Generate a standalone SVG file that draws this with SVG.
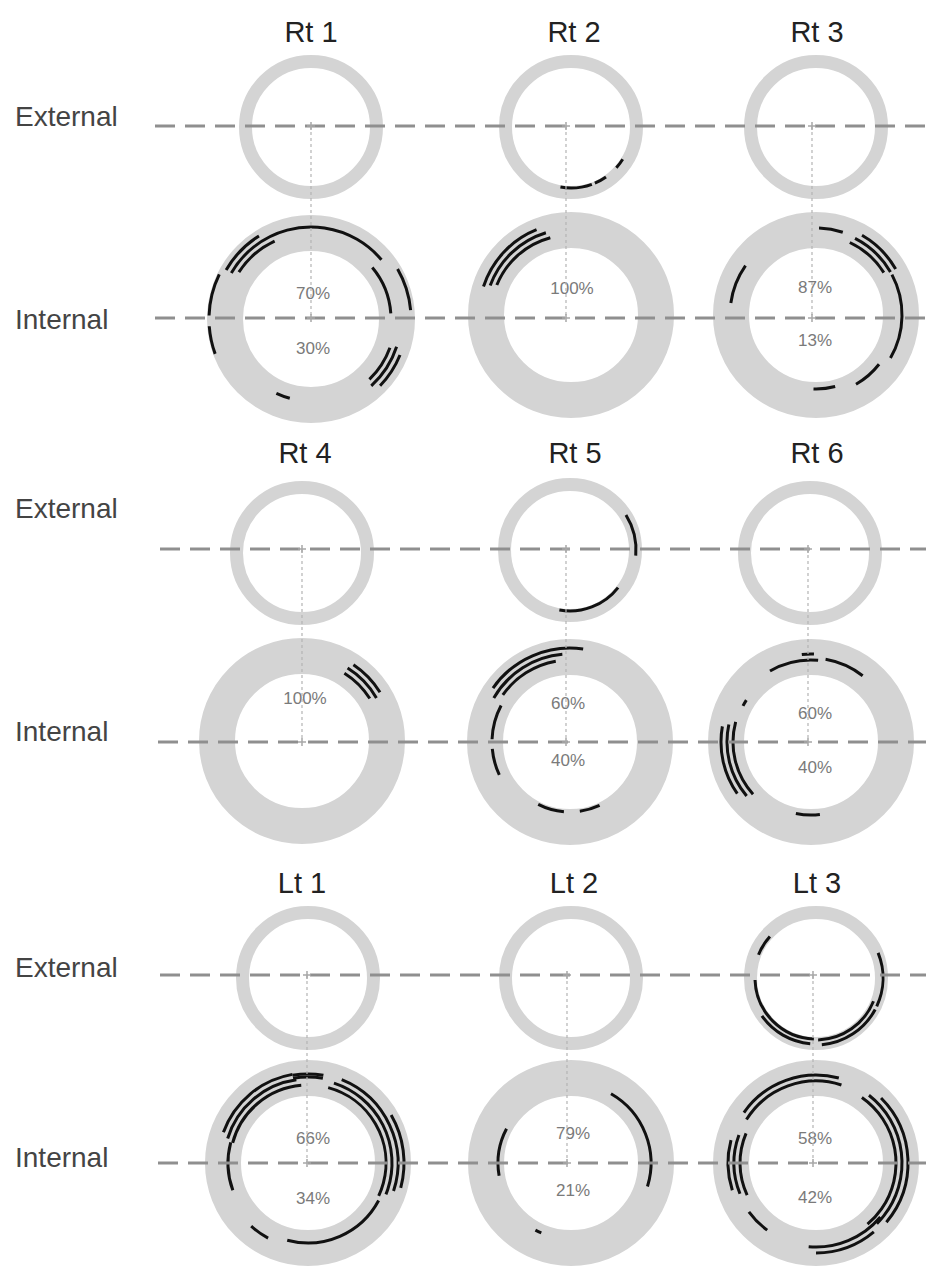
<svg xmlns="http://www.w3.org/2000/svg" width="926" height="1267" viewBox="0 0 926 1267">
<style>
.ext{fill:none;stroke:#d4d4d4;stroke-width:13}
.int{fill:none;stroke:#d4d4d4;stroke-width:36}
.dash{stroke:#8f8f8f;stroke-width:3;stroke-dasharray:20 10;fill:none}
.vdot{stroke:#b4b4b4;stroke-width:1.2;stroke-dasharray:3 3;fill:none}
.mk{stroke:#a8a8a8;stroke-width:1.5;fill:none}
.a{fill:none;stroke:#111;stroke-width:3}
.title{font-family:"Liberation Sans",Arial,sans-serif;font-size:29px;fill:#222;text-anchor:middle}
.lab{font-family:"Liberation Sans",Arial,sans-serif;font-size:28px;fill:#444}
.pct{font-family:"Liberation Sans",Arial,sans-serif;font-size:17px;fill:#7a7a7a;text-anchor:middle}
</style>
<rect width="926" height="1267" fill="#fff"/>

<g id="labels">
<text class="lab" x="15" y="126">External</text>
<text class="lab" x="15" y="329">Internal</text>
<text class="lab" x="15" y="518">External</text>
<text class="lab" x="15" y="741">Internal</text>
<text class="lab" x="15" y="977">External</text>
<text class="lab" x="15" y="1167">Internal</text>
</g>

<!-- Rt 1 -->
<g id="rt1">
<text class="title" x="311" y="42">Rt 1</text>
<circle class="ext" cx="311" cy="127" r="65.5"/>
<circle class="int" cx="311" cy="319" r="86"/>
<circle class="a" cx="311" cy="319" r="92" pathLength="360" stroke-dasharray="110 400" transform="rotate(210 311 319)"/>
<circle class="a" cx="311" cy="319" r="86" pathLength="360" stroke-dasharray="32 400" transform="rotate(213 311 319)"/>
<circle class="a" cx="311" cy="319" r="98" pathLength="360" stroke-dasharray="28 400" transform="rotate(210 311 319)"/>
<circle class="a" cx="311" cy="319" r="102" pathLength="360" stroke-dasharray="16 400" transform="rotate(160 311 319)"/>
<circle class="a" cx="311" cy="319" r="102" pathLength="360" stroke-dasharray="24 400" transform="rotate(182 311 319)"/>
<circle class="a" cx="311" cy="319" r="100" pathLength="360" stroke-dasharray="25 400" transform="rotate(-30 311 319)"/>
<circle class="a" cx="311" cy="319" r="80" pathLength="360" stroke-dasharray="36 400" transform="rotate(-40 311 319)"/>
<circle class="a" cx="311" cy="319" r="84" pathLength="360" stroke-dasharray="26 400" transform="rotate(20 311 319)"/>
<circle class="a" cx="311" cy="319" r="90" pathLength="360" stroke-dasharray="30 400" transform="rotate(18 311 319)"/>
<circle class="a" cx="311" cy="319" r="96" pathLength="360" stroke-dasharray="22 400" transform="rotate(22 311 319)"/>
<circle class="a" cx="311" cy="319" r="82" pathLength="360" stroke-dasharray="10 400" transform="rotate(105 311 319)"/>
<text class="pct" x="313" y="299">70%</text>
<text class="pct" x="313" y="354">30%</text>
</g>

<!-- Rt 2 -->
<g id="rt2">
<text class="title" x="574" y="42">Rt 2</text>
<circle class="ext" cx="571" cy="127" r="65.5"/>
<circle class="int" cx="571" cy="315" r="85"/>
<circle class="a" cx="571" cy="127" r="61" pathLength="360" stroke-dasharray="30 400" transform="rotate(70 571 127)"/>
<circle class="a" cx="571" cy="127" r="61" pathLength="360" stroke-dasharray="12 400" transform="rotate(55 571 127)"/>
<circle class="a" cx="571" cy="127" r="61" pathLength="360" stroke-dasharray="10 400" transform="rotate(32 571 127)"/>
<circle class="a" cx="571" cy="315" r="80" pathLength="360" stroke-dasharray="53 400" transform="rotate(202 571 315)"/>
<circle class="a" cx="571" cy="315" r="86" pathLength="360" stroke-dasharray="53 400" transform="rotate(200 571 315)"/>
<circle class="a" cx="571" cy="315" r="92" pathLength="360" stroke-dasharray="50 400" transform="rotate(198 571 315)"/>
<text class="pct" x="572" y="294">100%</text>
</g>

<!-- Rt 3 -->
<g id="rt3">
<text class="title" x="817" y="42">Rt 3</text>
<circle class="ext" cx="816" cy="127" r="65.5"/>
<circle class="int" cx="816" cy="315" r="85"/>
<circle class="a" cx="816" cy="315" r="87" pathLength="360" stroke-dasharray="16 400" transform="rotate(-88 816 315)"/>
<circle class="a" cx="816" cy="315" r="80" pathLength="360" stroke-dasharray="33 400" transform="rotate(-65 816 315)"/>
<circle class="a" cx="816" cy="315" r="86" pathLength="360" stroke-dasharray="33 400" transform="rotate(-63 816 315)"/>
<circle class="a" cx="816" cy="315" r="92" pathLength="360" stroke-dasharray="30 400" transform="rotate(-60 816 315)"/>
<circle class="a" cx="816" cy="315" r="86" pathLength="360" stroke-dasharray="58 400" transform="rotate(-28 816 315)"/>
<circle class="a" cx="816" cy="315" r="80" pathLength="360" stroke-dasharray="22 400" transform="rotate(38 816 315)"/>
<circle class="a" cx="816" cy="315" r="74" pathLength="360" stroke-dasharray="17 400" transform="rotate(75 816 315)"/>
<circle class="a" cx="816" cy="315" r="86" pathLength="360" stroke-dasharray="27 400" transform="rotate(188 816 315)"/>
<text class="pct" x="815" y="293">87%</text>
<text class="pct" x="815" y="346">13%</text>
</g>

<!-- Rt 4 -->
<g id="rt4">
<text class="title" x="305" y="463">Rt 4</text>
<circle class="ext" cx="302" cy="553" r="65.5"/>
<circle class="int" cx="302" cy="741" r="85"/>
<circle class="a" cx="302" cy="741" r="80" pathLength="360" stroke-dasharray="26 400" transform="rotate(-58 302 741)"/>
<circle class="a" cx="302" cy="741" r="86" pathLength="360" stroke-dasharray="28 400" transform="rotate(-58 302 741)"/>
<circle class="a" cx="302" cy="741" r="92" pathLength="360" stroke-dasharray="24 400" transform="rotate(-56 302 741)"/>
<text class="pct" x="305" y="704">100%</text>
</g>

<!-- Rt 5 -->
<g id="rt5">
<text class="title" x="575" y="463">Rt 5</text>
<circle class="ext" cx="570" cy="550" r="65.5"/>
<circle class="int" cx="570" cy="742" r="85"/>
<circle class="a" cx="570" cy="550" r="66" pathLength="360" stroke-dasharray="37 400" transform="rotate(-32 570 550)"/>
<circle class="a" cx="570" cy="550" r="61" pathLength="360" stroke-dasharray="62 400" transform="rotate(38 570 550)"/>
<circle class="a" cx="570" cy="742" r="94" pathLength="360" stroke-dasharray="63 400" transform="rotate(215 570 742)"/>
<circle class="a" cx="570" cy="742" r="88" pathLength="360" stroke-dasharray="55 400" transform="rotate(210 570 742)"/>
<circle class="a" cx="570" cy="742" r="82" pathLength="360" stroke-dasharray="45 400" transform="rotate(215 570 742)"/>
<circle class="a" cx="570" cy="742" r="78" pathLength="360" stroke-dasharray="20 400" transform="rotate(155 570 742)"/>
<circle class="a" cx="570" cy="742" r="78" pathLength="360" stroke-dasharray="26 400" transform="rotate(182 570 742)"/>
<circle class="a" cx="570" cy="742" r="70" pathLength="360" stroke-dasharray="22 400" transform="rotate(95 570 742)"/>
<circle class="a" cx="570" cy="742" r="70" pathLength="360" stroke-dasharray="17 400" transform="rotate(65 570 742)"/>
<text class="pct" x="568" y="709">60%</text>
<text class="pct" x="568" y="766">40%</text>
</g>

<!-- Rt 6 -->
<g id="rt6">
<text class="title" x="817" y="463">Rt 6</text>
<circle class="ext" cx="810" cy="553" r="65.5"/>
<circle class="int" cx="811" cy="742" r="85"/>
<circle class="a" cx="811" cy="742" r="82" pathLength="360" stroke-dasharray="35 400" transform="rotate(240 811 742)"/>
<circle class="a" cx="811" cy="742" r="84" pathLength="360" stroke-dasharray="28 400" transform="rotate(-80 811 742)"/>
<circle class="a" cx="811" cy="742" r="88" pathLength="360" stroke-dasharray="8 400" transform="rotate(264 811 742)"/>
<circle class="a" cx="811" cy="742" r="77" pathLength="360" stroke-dasharray="5 400" transform="rotate(208 811 742)"/>
<circle class="a" cx="811" cy="742" r="78" pathLength="360" stroke-dasharray="57 400" transform="rotate(138 811 742)"/>
<circle class="a" cx="811" cy="742" r="84" pathLength="360" stroke-dasharray="52 400" transform="rotate(140 811 742)"/>
<circle class="a" cx="811" cy="742" r="90" pathLength="360" stroke-dasharray="45 400" transform="rotate(145 811 742)"/>
<circle class="a" cx="811" cy="742" r="73" pathLength="360" stroke-dasharray="19 400" transform="rotate(83 811 742)"/>
<text class="pct" x="815" y="719">60%</text>
<text class="pct" x="815" y="773">40%</text>
</g>

<!-- Lt 1 -->
<g id="lt1">
<text class="title" x="302" y="893">Lt 1</text>
<circle class="ext" cx="308" cy="978" r="65.5"/>
<circle class="int" cx="308" cy="1163" r="85"/>
<circle class="a" cx="308" cy="1163" r="86" pathLength="360" stroke-dasharray="20 400" transform="rotate(260 308 1163)"/>
<circle class="a" cx="308" cy="1163" r="89" pathLength="360" stroke-dasharray="20 400" transform="rotate(260 308 1163)"/>
<circle class="a" cx="308" cy="1163" r="78" pathLength="360" stroke-dasharray="70 400" transform="rotate(195 308 1163)"/>
<circle class="a" cx="308" cy="1163" r="84" pathLength="360" stroke-dasharray="65 400" transform="rotate(197 308 1163)"/>
<circle class="a" cx="308" cy="1163" r="90" pathLength="360" stroke-dasharray="60 400" transform="rotate(200 308 1163)"/>
<circle class="a" cx="308" cy="1163" r="80" pathLength="360" stroke-dasharray="35 400" transform="rotate(160 308 1163)"/>
<circle class="a" cx="308" cy="1163" r="78" pathLength="360" stroke-dasharray="100 400" transform="rotate(-75 308 1163)"/>
<circle class="a" cx="308" cy="1163" r="84" pathLength="360" stroke-dasharray="94 400" transform="rotate(-72 308 1163)"/>
<circle class="a" cx="308" cy="1163" r="90" pathLength="360" stroke-dasharray="86 400" transform="rotate(-68 308 1163)"/>
<circle class="a" cx="308" cy="1163" r="96" pathLength="360" stroke-dasharray="45 400" transform="rotate(-30 308 1163)"/>
<circle class="a" cx="308" cy="1163" r="80" pathLength="360" stroke-dasharray="77 400" transform="rotate(28 308 1163)"/>
<circle class="a" cx="308" cy="1163" r="85" pathLength="360" stroke-dasharray="14 400" transform="rotate(118 308 1163)"/>
<text class="pct" x="313" y="1144">66%</text>
<text class="pct" x="313" y="1204">34%</text>
</g>

<!-- Lt 2 -->
<g id="lt2">
<text class="title" x="574" y="893">Lt 2</text>
<circle class="ext" cx="571" cy="978" r="65.5"/>
<circle class="int" cx="571" cy="1163" r="85"/>
<circle class="a" cx="571" cy="1163" r="80" pathLength="360" stroke-dasharray="77 400" transform="rotate(-60 571 1163)"/>
<circle class="a" cx="571" cy="1163" r="73" pathLength="360" stroke-dasharray="38 400" transform="rotate(170 571 1163)"/>
<circle class="a" cx="571" cy="1163" r="76" pathLength="360" stroke-dasharray="5 400" transform="rotate(113 571 1163)"/>
<text class="pct" x="573" y="1139">79%</text>
<text class="pct" x="573" y="1196">21%</text>
</g>

<!-- Lt 3 -->
<g id="lt3">
<text class="title" x="817" y="893">Lt 3</text>
<circle class="ext" cx="816" cy="978" r="65.5"/>
<circle class="int" cx="816" cy="1163" r="85"/>
<circle class="a" cx="816" cy="978" r="62" pathLength="360" stroke-dasharray="20 400" transform="rotate(202 816 978)"/>
<circle class="a" cx="816" cy="978" r="61" pathLength="360" stroke-dasharray="86 400" transform="rotate(92 816 978)"/>
<circle class="a" cx="816" cy="978" r="66" pathLength="360" stroke-dasharray="50 400" transform="rotate(95 816 978)"/>
<circle class="a" cx="816" cy="978" r="67" pathLength="360" stroke-dasharray="47 400" transform="rotate(-22 816 978)"/>
<circle class="a" cx="816" cy="978" r="62" pathLength="360" stroke-dasharray="66 400" transform="rotate(22 816 978)"/>
<circle class="a" cx="816" cy="978" r="67" pathLength="360" stroke-dasharray="57 400" transform="rotate(28 816 978)"/>
<circle class="a" cx="816" cy="1163" r="82" pathLength="360" stroke-dasharray="76 400" transform="rotate(212 816 1163)"/>
<circle class="a" cx="816" cy="1163" r="88" pathLength="360" stroke-dasharray="70 400" transform="rotate(215 816 1163)"/>
<circle class="a" cx="816" cy="1163" r="80" pathLength="360" stroke-dasharray="105 400" transform="rotate(-55 816 1163)"/>
<circle class="a" cx="816" cy="1163" r="86" pathLength="360" stroke-dasharray="97 400" transform="rotate(-52 816 1163)"/>
<circle class="a" cx="816" cy="1163" r="92" pathLength="360" stroke-dasharray="85 400" transform="rotate(-45 816 1163)"/>
<circle class="a" cx="816" cy="1163" r="84" pathLength="360" stroke-dasharray="55 400" transform="rotate(40 816 1163)"/>
<circle class="a" cx="816" cy="1163" r="90" pathLength="360" stroke-dasharray="40 400" transform="rotate(50 816 1163)"/>
<circle class="a" cx="816" cy="1163" r="76" pathLength="360" stroke-dasharray="48 400" transform="rotate(155 816 1163)"/>
<circle class="a" cx="816" cy="1163" r="82" pathLength="360" stroke-dasharray="42 400" transform="rotate(158 816 1163)"/>
<circle class="a" cx="816" cy="1163" r="88" pathLength="360" stroke-dasharray="33 400" transform="rotate(162 816 1163)"/>
<circle class="a" cx="816" cy="1163" r="83" pathLength="360" stroke-dasharray="18 400" transform="rotate(126 816 1163)"/>
<text class="pct" x="815" y="1144">58%</text>
<text class="pct" x="815" y="1203">42%</text>
</g>

<g id="connectors">
<line class="dash" x1="155" y1="126" x2="926" y2="126"/>
<line class="dash" x1="155" y1="318" x2="926" y2="318"/>
<line class="dash" x1="160" y1="549" x2="926" y2="549"/>
<line class="dash" x1="158" y1="742" x2="926" y2="742"/>
<line class="dash" x1="160" y1="975" x2="926" y2="975"/>
<line class="dash" x1="158" y1="1163" x2="926" y2="1163"/>
<line class="vdot" x1="311" y1="126" x2="311" y2="318"/>
<line class="vdot" x1="566" y1="126" x2="566" y2="318"/>
<line class="vdot" x1="812" y1="126" x2="812" y2="318"/>
<line class="vdot" x1="302" y1="549" x2="302" y2="742"/>
<line class="vdot" x1="566" y1="549" x2="566" y2="742"/>
<line class="vdot" x1="808" y1="549" x2="808" y2="742"/>
<line class="vdot" x1="307" y1="975" x2="307" y2="1163"/>
<line class="vdot" x1="567" y1="975" x2="567" y2="1163"/>
<line class="vdot" x1="813" y1="975" x2="813" y2="1163"/>
<path class="mk" d="M307 126h8M311 122v8M307 318h8M311 314v8M562 126h8M566 122v8M562 318h8M566 314v8M808 126h8M812 122v8M808 318h8M812 314v8M298 549h8M302 545v8M298 742h8M302 738v8M562 549h8M566 545v8M562 742h8M566 738v8M804 549h8M808 545v8M804 742h8M808 738v8M303 975h8M307 971v8M303 1163h8M307 1159v8M563 975h8M567 971v8M563 1163h8M567 1159v8M809 975h8M813 971v8M809 1163h8M813 1159v8"/>
</g>
</svg>
